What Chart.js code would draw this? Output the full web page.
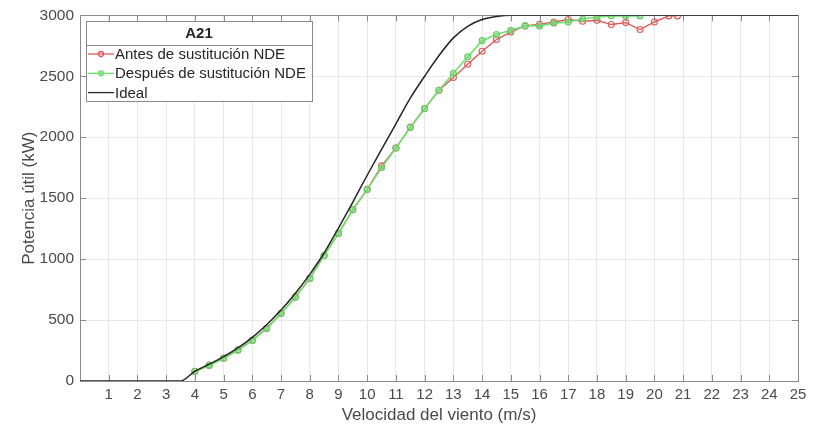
<!doctype html>
<html>
<head>
<title>A21</title>
<script src="https://cdn.jsdelivr.net/npm/chart.js@4.4.1/dist/chart.umd.min.js"></script>
<style>
body { margin: 0; background: #fff; }
#wrap { width: 816px; height: 427px; }
</style>
</head>
<body>
<div id="wrap"><canvas id="canvas"></canvas></div>
<script>
// ---- data ----
var legendTitle = 'A21';
var xTitle = 'Velocidad del viento (m/s)';
var yTitle = 'Potencia útil (kW)';

var windBefore = [4, 4.5, 5, 5.5, 6, 6.5, 7, 7.5, 8, 8.5, 9, 9.5, 10, 10.5, 11, 11.5, 12, 12.5,
	13, 13.5, 14, 14.5, 15, 15.5, 16, 16.5, 17, 17.5, 18, 18.5, 19, 19.5, 20, 20.5, 20.8];
var powerBefore = [80, 130, 188, 255, 335, 432, 555, 690, 842, 1030, 1212, 1405, 1572, 1765, 1912, 2083, 2235, 2385,
	2490, 2598, 2705, 2801, 2863, 2913, 2926, 2945, 2965, 2951, 2959, 2924, 2940, 2883, 2945, 2995, 2995];

var windAfter = [4, 4.5, 5, 5.5, 6, 6.5, 7, 7.5, 8, 8.5, 9, 9.5, 10, 10.5, 11, 11.5, 12, 12.5,
	13, 13.5, 14, 14.5, 15, 15.5, 16, 16.5, 17, 17.5, 18, 18.5, 19, 19.5];
var powerAfter = [78, 128, 185, 252, 333, 430, 553, 688, 840, 1028, 1210, 1405, 1570, 1750, 1912, 2080, 2235, 2385,
	2525, 2660, 2792, 2842, 2877, 2913, 2913, 2935, 2945, 2970, 2986, 2995, 2995, 2995];

var windIdeal = [0, 3.5, 4, 4.5, 5, 5.5, 6, 6.5, 7, 7.5, 8, 8.5, 9, 9.5, 10, 10.5, 11, 11.5, 12, 12.5,
	13, 13.5, 14, 14.5, 15, 25];
var powerIdeal = [0, 0, 80, 138, 200, 272, 358, 462, 582, 720, 875, 1050, 1255, 1468, 1688, 1900, 2110, 2320, 2500, 2670,
	2815, 2910, 2965, 2990, 3000, 3000];

var xTicks = [1, 2, 3, 4, 5, 6, 7, 8, 9, 10, 11, 12, 13, 14, 15, 16, 17, 18, 19, 20, 21, 22, 23, 24, 25];
var yTicks = [0, 500, 1000, 1500, 2000, 2500, 3000];

function pairs(xs, ys) {
	var out = [];
	for (var i = 0; i < xs.length; i++) out.push({x: xs[i], y: ys[i]});
	return out;
}

var FONT = '"Liberation Sans", Arial, Helvetica, sans-serif';
var TXT = '#4a4a4a';

// box, inner ticks and the boxed legend, MATLAB style
var framePlugin = {
	id: 'frame',
	beforeDatasetsDraw: function(chart) {
		var ctx = chart.ctx, a = chart.chartArea;
		var xs = chart.scales.x, ys = chart.scales.y;
		ctx.save();
		ctx.strokeStyle = '#8a8a8a';
		ctx.lineWidth = 1;
		ctx.beginPath();
		xTicks.forEach(function(t) {
			var px = Math.round(xs.getPixelForValue(t)) + 0.5;
			ctx.moveTo(px, a.bottom); ctx.lineTo(px, a.bottom - 6);
			ctx.moveTo(px, a.top); ctx.lineTo(px, a.top + 6);
		});
		yTicks.forEach(function(t) {
			var py = Math.round(ys.getPixelForValue(t)) + 0.5;
			ctx.moveTo(a.left, py); ctx.lineTo(a.left + 6, py);
			ctx.moveTo(a.right, py); ctx.lineTo(a.right - 6, py);
		});
		ctx.stroke();
		ctx.strokeRect(Math.round(a.left) + 0.5, Math.round(a.top) + 0.5,
			Math.round(a.right - a.left), Math.round(a.bottom - a.top));
		ctx.restore();
	},
	afterDatasetsDraw: function(chart) {
		var ctx = chart.ctx;
		var bx = 86, by = 21, bw = 226, bh = 80;
		ctx.save();
		ctx.fillStyle = '#fff';
		ctx.fillRect(bx, by, bw, bh);
		ctx.strokeStyle = '#8a8a8a';
		ctx.lineWidth = 1;
		ctx.strokeRect(bx + 0.5, by + 0.5, bw, bh);
		ctx.beginPath();
		ctx.moveTo(bx, by + 24.5); ctx.lineTo(bx + bw, by + 24.5);
		ctx.stroke();
		ctx.fillStyle = '#262626';
		ctx.font = 'bold 15px ' + FONT;
		ctx.textAlign = 'center';
		ctx.textBaseline = 'middle';
		ctx.fillText(legendTitle, bx + bw / 2, by + 13);
		ctx.font = '15px ' + FONT;
		ctx.textAlign = 'left';
		chart.data.datasets.forEach(function(ds, i) {
			var ly = by + 33 + i * 19.3;
			ctx.strokeStyle = ds.borderColor;
			ctx.lineWidth = 1.3;
			ctx.beginPath();
			ctx.moveTo(bx + 2, ly); ctx.lineTo(bx + 28, ly);
			ctx.stroke();
			if (ds.pointRadius > 0) {
				ctx.beginPath();
				ctx.arc(bx + 15, ly, 2.5, 0, Math.PI * 2);
				ctx.fillStyle = ds.pointBackgroundColor;
				ctx.fill();
				ctx.stroke();
			}
			ctx.fillStyle = '#262626';
			ctx.fillText(ds.label, bx + 29, ly + 1);
		});
		ctx.restore();
	}
};

var chartData = {
	datasets: [
		{
			label: 'Antes de sustitución NDE',
			data: pairs(windBefore, powerBefore),
			borderColor: 'rgb(222,90,90)',
			backgroundColor: 'rgb(222,90,90)',
			pointBackgroundColor: 'rgba(255,255,255,0)',
			pointBorderColor: 'rgb(222,90,90)',
			borderWidth: 1.4,
			pointRadius: 3,
			pointBorderWidth: 1.1,
			order: 3
		},
		{
			label: 'Después de sustitución NDE',
			data: pairs(windAfter, powerAfter),
			borderColor: 'rgb(110,225,110)',
			backgroundColor: 'rgb(110,225,110)',
			pointBackgroundColor: 'rgba(120,215,120,0.6)',
			pointBorderColor: 'rgb(105,205,105)',
			borderWidth: 1.6,
			pointRadius: 3,
			pointBorderWidth: 1.1,
			order: 2
		},
		{
			label: 'Ideal',
			data: pairs(windIdeal, powerIdeal),
			borderColor: '#262626',
			backgroundColor: '#262626',
			borderWidth: 1.5,
			pointRadius: 0,
			cubicInterpolationMode: 'monotone',
			order: 1
		}
	]
};

new Chart(document.getElementById('canvas').getContext('2d'), {
	type: 'line',
	data: chartData,
	plugins: [framePlugin],
	options: {
		responsive: true,
		maintainAspectRatio: false,
		animation: false,
		layout: { padding: { top: 15, right: 18, left: 0, bottom: 0 } },
		plugins: {
			legend: { display: false },
			tooltip: { enabled: false }
		},
		scales: {
			x: {
				type: 'linear',
				min: 0,
				max: 25,
				afterFit: function(s) { s.height = 46; },
				afterBuildTicks: function(s) { s.ticks = xTicks.map(function(v) { return {value: v}; }); },
				grid: { color: '#e8e8e8', drawTicks: false },
				border: { display: false },
				ticks: { color: TXT, font: { family: FONT, size: 15 }, padding: 5, maxRotation: 0, autoSkip: false,
					callback: function(v) { return String(v); } },
				title: { display: true, text: xTitle, color: TXT, font: { family: FONT, size: 17 }, padding: { top: 0, bottom: 1 } }
			},
			y: {
				min: 0,
				max: 3000,
				afterFit: function(s) { s.width = 80; },
				afterBuildTicks: function(s) { s.ticks = yTicks.map(function(v) { return {value: v}; }); },
				grid: { color: '#e8e8e8', drawTicks: false },
				border: { display: false },
				ticks: { color: TXT, font: { family: FONT, size: 15.5 }, padding: 6,
					callback: function(v) { return String(v); } },
				title: { display: true, text: yTitle, color: TXT, font: { family: FONT, size: 17 }, padding: { top: 19, bottom: 0 } }
			}
		}
	}
});
</script>
</body>
</html>
